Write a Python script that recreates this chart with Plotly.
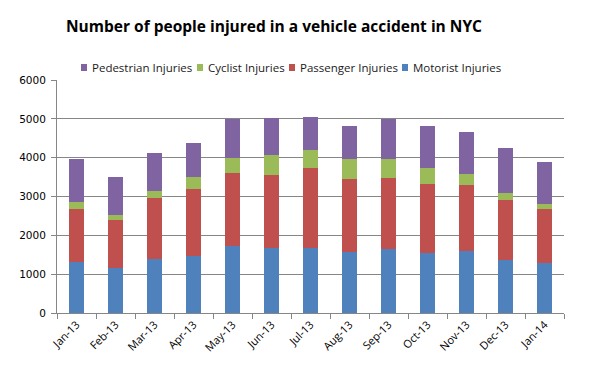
import plotly.graph_objects as go

months = ["Jan-13", "Feb-13", "Mar-13", "Apr-13", "May-13", "Jun-13", "Jul-13",
          "Aug-13", "Sep-13", "Oct-13", "Nov-13", "Dec-13", "Jan-14"]
motorist = [1320, 1170, 1390, 1480, 1735, 1685, 1685, 1580, 1650, 1555, 1605, 1375, 1295]
passenger = [1365, 1235, 1580, 1725, 1880, 1880, 2060, 1880, 1835, 1775, 1700, 1545, 1390]
cyclist = [180, 130, 180, 285, 385, 515, 465, 515, 490, 410, 285, 180, 130]
pedestrian = [1105, 980, 980, 900, 985, 950, 850, 850, 1010, 1080, 1080, 1160, 1080]

series_names = ["Motorist Injuries", "Passenger Injuries", "Cyclist Injuries", "Pedestrian Injuries"]
series_values = [motorist, passenger, cyclist, pedestrian]
series_colors = ["#4F81BD", "#C0504D", "#9BBB59", "#8064A2"]

# The page body has an 8px margin, so the figure is drawn 8px smaller and
# all target pixel positions are shifted by that offset.
OFF = 8
W, H = 589 - OFF, 392 - OFF
L, R, T, B = 57 - OFF, 25, 80 - OFF, 79
pw = W - L - R
ph = H - T - B


def px_x(px):
    return (px - OFF - L) / pw


def px_y(py):
    return (H - B - (py - OFF)) / ph


fig = go.Figure()
for name, vals, color in zip(series_names, series_values, series_colors):
    fig.add_trace(go.Bar(x=months, y=vals, name=name, marker_color=color,
                         marker_line_width=0, showlegend=False))

# Manual legend (reversed order, horizontal, Excel style)
legend_x = [81, 197, 289, 402]
for (name, color), sx in zip(list(zip(series_names, series_colors))[::-1], legend_x):
    fig.add_shape(type="rect", xref="paper", yref="paper",
                  x0=px_x(sx), x1=px_x(sx + 6),
                  y0=px_y(71), y1=px_y(64),
                  fillcolor=color, line_width=0)
    fig.add_annotation(text=name, xref="paper", yref="paper",
                       x=px_x(sx + 8.5), xanchor="left",
                       y=px_y(67.5), yanchor="middle",
                       showarrow=False,
                       font=dict(family="Open Sans", size=11.5, color="#1a1a1a"))

fig.update_layout(
    width=W, height=H,
    barmode="stack", bargap=0.615,
    plot_bgcolor="white", paper_bgcolor="white",
    margin=dict(l=L, r=R, t=T, b=B, autoexpand=False),
    title=dict(text="<b>Number of people injured in a vehicle accident in NYC</b>",
               x=(274 - OFF) / W, xanchor="center", xref="container",
               y=1 - (27 - OFF) / H, yanchor="middle",
               font=dict(family="Open Sans", size=15.5, color="black")),
    showlegend=False,
    font=dict(family="DejaVu Sans"),
)
fig.update_yaxes(range=[0, 6000], dtick=1000, showgrid=True, gridcolor="#868686",
                 gridwidth=1, showline=True, linecolor="#868686", ticks="outside",
                 ticklen=5, tickcolor="#868686", zeroline=False, ticklabelstandoff=3,
                 tickfont=dict(family="DejaVu Sans", size=10.5, color="black"))
fig.update_xaxes(showline=True, linecolor="#868686", ticks="outside", ticklen=5,
                 tickcolor="#868686", tickson="boundaries", tickangle=-45,
                 tickfont=dict(family="Open Sans", size=11, color="black"))

fig.write_html("out.html")
